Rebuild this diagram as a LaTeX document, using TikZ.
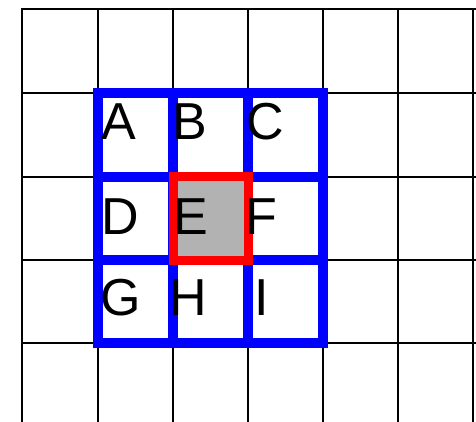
\documentclass[tikz,border=0pt]{standalone}
\usepackage{fontspec}
\setmainfont{Liberation Sans}
\begin{document}
\begin{tikzpicture}[x=1pt, y=-1pt]
    \tikzset{
        gridline/.style={black, line width=2pt},
        blueline/.style={blue, line width=10pt},
        redline/.style={draw=red, line width=9pt},
        letter/.style={anchor=base west, inner sep=0pt, font=\fontsize{52}{52}\selectfont}
    }
    \useasboundingbox (0,0) rectangle (476,422);

    % 1. 背景网格
    \foreach \x in {22,98,173,248,323,398,473}
        \draw[gridline] (\x,9) -- (\x,422);
    \foreach \y in {9,93,177,260,343}
        \draw[gridline, line cap=rect] (22,\y) -- (476,\y);

    % 2. 蓝色 3x3 邻域
    \draw[blueline] (98,93) rectangle (323,343);
    \foreach \x in {173,248}
        \draw[blueline] (\x,93) -- (\x,343);
    \foreach \y in {177,260}
        \draw[blueline] (98,\y) -- (323,\y);

    % 3. 中心格 E
    \filldraw[fill=black!30, redline] (173,177) rectangle (248,260);

    % 4. 字母
    \node[letter] (A) at (101,140) {A};
    \node[letter] (B) at (172,140) {B};
    \node[letter] (C) at (246,140) {C};
    \node[letter] (D) at (101,234) {D};
    \node[letter] (E) at (173,234) {E};
    \node[letter] (F) at (245,234) {F};
    \node[letter] (G) at (100,315) {G};
    \node[letter] (H) at (169,315) {H};
    \node[letter] (I) at (254,315) {I};

\end{tikzpicture}
\end{document}
